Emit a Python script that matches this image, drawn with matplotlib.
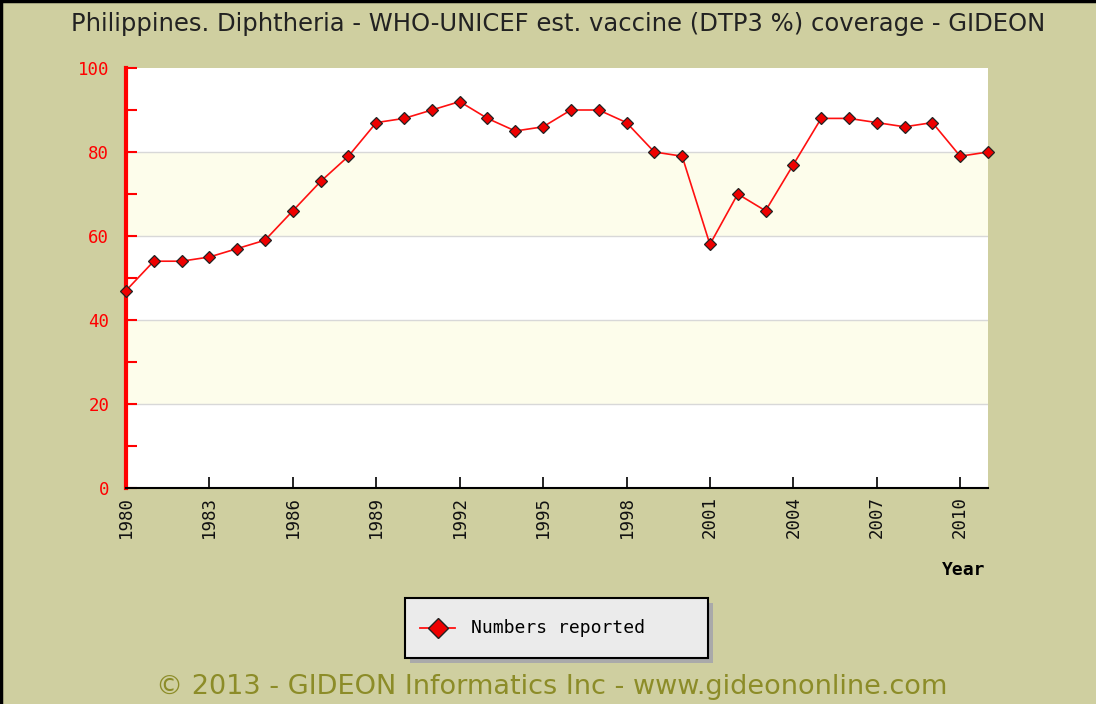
import matplotlib
matplotlib.use("Agg")
import matplotlib.pyplot as plt
from matplotlib.patches import Rectangle
from matplotlib.lines import Line2D

years = list(range(1980, 2012))
coverage = [47, 54, 54, 55, 57, 59, 66, 73, 79, 87, 88, 90, 92, 88, 85, 86,
            90, 90, 87, 80, 79, 58, 70, 66, 77, 88, 88, 87, 86, 87, 79, 80]
xtick_years = list(range(1980, 2012, 3))
ytick_vals = [0, 20, 40, 60, 80, 100]

title = "Philippines. Diphtheria - WHO-UNICEF est. vaccine (DTP3 %) coverage - GIDEON"
footer = "\u00a9 2013 - GIDEON Informatics Inc - www.gideononline.com"
series_label = "Numbers reported"

BG = "#CFCFA0"
W, H = 1096, 704
fig = plt.figure(figsize=(W / 100, H / 100), dpi=100, facecolor=BG)

# outer border (top and left only)
fig.lines.append(Line2D([0, 1], [1 - 1 / H, 1 - 1 / H], transform=fig.transFigure,
                        color="black", linewidth=2.5, zorder=10))
fig.lines.append(Line2D([1 / W, 1 / W], [0, 1], transform=fig.transFigure,
                        color="black", linewidth=2.5, zorder=10))

ax = fig.add_axes([126 / W, 1 - 488 / H, (988 - 126) / W, (488 - 68) / H])
ax.set_facecolor("white")
ax.set_xlim(1980, 2011)
ax.set_ylim(0, 100)

# bands
for lo in (20, 60):
    ax.axhspan(lo, lo + 20, color="#FDFDEB", zorder=0, linewidth=0)
for g in (20, 40, 60, 80):
    ax.axhline(g, color="#D8D8D8", linewidth=1, zorder=1)

ax.plot(years, coverage, color="#FF1010", linewidth=1.2, marker="D", markersize=6,
        markerfacecolor="#EE0000", markeredgecolor="#222222", markeredgewidth=0.9,
        zorder=3, clip_on=False)

for s in ("top", "right"):
    ax.spines[s].set_visible(False)
ax.spines["left"].set_color("red")
ax.spines["left"].set_linewidth(3)
ax.spines["bottom"].set_color("black")
ax.spines["bottom"].set_linewidth(1.5)

mono = "DejaVu Sans Mono"
ax.set_yticks(ytick_vals)
ax.set_yticks(range(0, 101, 10), minor=True)
ax.set_yticklabels([str(v) for v in ytick_vals], color="red", fontsize=12.5, family=mono)
ax.tick_params(axis="y", which="both", direction="in", colors="red", length=8, width=1.5, pad=12)

ax.set_xticks(xtick_years)
ax.set_xticklabels([str(y) for y in xtick_years], rotation=90, fontsize=12.5, family=mono,
                   color="#111111")
ax.tick_params(axis="x", direction="in", color="black", length=8, width=1.2, pad=6)

fig.text(558 / W, 1 - 24 / H, title, ha="center", va="center", fontsize=17.5,
         color="#222222", family="DejaVu Sans")
fig.text(985 / W, 1 - 570 / H, "Year", ha="right", va="center", fontsize=13,
         fontweight="bold", family=mono, color="black")

# legend with shadow
lx0, ly0, lx1, ly1 = 405, 598, 708, 658
fig.patches.append(Rectangle(((lx0 + 5) / W, 1 - (ly1 + 5) / H), (lx1 - lx0) / W, (ly1 - ly0) / H,
                             transform=fig.transFigure, facecolor="#AAAAAA", edgecolor="none", zorder=4))
fig.patches.append(Rectangle((lx0 / W, 1 - ly1 / H), (lx1 - lx0) / W, (ly1 - ly0) / H,
                             transform=fig.transFigure, facecolor="#EBEBEB", edgecolor="black",
                             linewidth=1.5, zorder=5))
fig.lines.append(Line2D([420 / W, 455 / W], [1 - 628 / H, 1 - 628 / H], transform=fig.transFigure,
                        color="#FF1010", linewidth=1.3, zorder=6))
fig.lines.append(Line2D([437.5 / W], [1 - 628 / H], transform=fig.transFigure, marker="D",
                        markersize=10, markerfacecolor="#EE0000", markeredgecolor="#222222",
                        markeredgewidth=1, linestyle="none", zorder=7))
fig.text(471 / W, 1 - 628 / H, series_label, ha="left", va="center", fontsize=13,
         family=mono, color="black", zorder=8)

fig.text(552 / W, 1 - 687 / H, footer, ha="center", va="center", fontsize=19.5,
         family="DejaVu Sans", color="#8C8C28")

fig.savefig("out.png", dpi=100, facecolor=BG)
